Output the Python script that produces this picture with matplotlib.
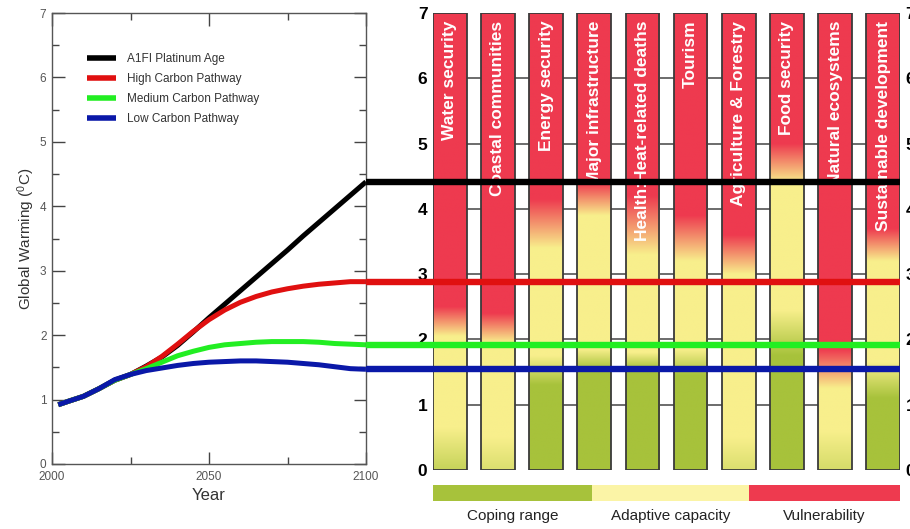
import numpy as np
import matplotlib
matplotlib.use("Agg")
import matplotlib.pyplot as plt
from matplotlib import transforms
from matplotlib.patches import Rectangle
from matplotlib.colors import to_rgb

plt.rcParams["font.family"] = ["Liberation Sans", "DejaVu Sans"]
plt.rcParams["mathtext.fontset"] = "custom"
plt.rcParams["mathtext.rm"] = "Liberation Sans"
plt.rcParams["mathtext.it"] = "Liberation Sans:italic"

# ---- warming pathways (global mean warming, deg C) ----
years = [2002, 2005, 2010, 2015, 2020, 2025, 2030, 2035, 2040, 2045, 2050,
         2055, 2060, 2065, 2070, 2075, 2080, 2085, 2090, 2095, 2100]
a1fi = [0.92, 0.97, 1.05, 1.17, 1.30, 1.39, 1.52, 1.66, 1.84, 2.05, 2.27,
        2.48, 2.69, 2.90, 3.11, 3.32, 3.54, 3.75, 3.96, 4.17, 4.38]
high = [0.92, 0.97, 1.05, 1.17, 1.30, 1.39, 1.51, 1.67, 1.86, 2.06, 2.24,
        2.39, 2.51, 2.60, 2.67, 2.72, 2.76, 2.79, 2.81, 2.83, 2.83]
medium = [0.92, 0.97, 1.05, 1.17, 1.30, 1.39, 1.48, 1.58, 1.68, 1.75, 1.81,
          1.85, 1.87, 1.89, 1.90, 1.90, 1.90, 1.89, 1.87, 1.86, 1.85]
low = [0.92, 0.97, 1.05, 1.17, 1.31, 1.39, 1.45, 1.49, 1.53, 1.56, 1.58,
       1.59, 1.60, 1.60, 1.59, 1.58, 1.56, 1.54, 1.51, 1.48, 1.47]
series_names = ["A1FI Platinum Age", "High Carbon Pathway",
                "Medium Carbon Pathway", "Low Carbon Pathway"]

# ---- sector risk bars: warming levels where each band begins/ends ----
sectors = ["Water security", "Coastal communities", "Energy security",
           "Major infrastructure", "Health:Heat-related deaths", "Tourism",
           "Agriculture & Forestry", "Food security", "Natural ecosystems",
           "Sustainable development"]
coping_top = [-0.4, -0.9, 1.30, 1.55, 1.55, 1.45, -0.9, 1.75, -0.8, 1.10]
adaptive_bottom = [0.65, 0.50, 1.75, 1.85, 1.80, 1.85, 0.50, 2.45, 0.60, 1.65]
adaptive_top = [2.05, 1.95, 3.40, 3.90, 3.30, 3.20, 3.00, 4.40, 1.25, 3.20]
vuln_bottom = [2.50, 2.40, 4.15, 4.40, 4.20, 3.90, 3.60, 5.00, 1.85, 3.70]

band_labels = ["Coping range", "Adaptive capacity", "Vulnerability"]
band_edges = [0.0, 0.34, 0.677, 1.0]

GREEN = "#a7c23b"
YELLOW = "#f8ef8c"
RED = "#ee3a4f"
LEGEND_YELLOW = "#fbf4a6"
line_colors = ["#000000", "#e01010", "#22ee22", "#0a18a8"]

fig = plt.figure(figsize=(9.10, 5.29), dpi=100)

# ---------------- left: warming pathways ----------------
axL = fig.add_axes([52 / 910, 65 / 529, 314 / 910, 451 / 529])
axL.set_zorder(3)
axL.patch.set_alpha(0)
for vals, name, c in zip([a1fi, high, medium, low], series_names, line_colors):
    axL.plot(years, vals, color=c, lw=3.6, label=name, solid_capstyle="butt")

# horizontal projection of each 2100 value across the sector bars
ext = transforms.blended_transform_factory(axL.transAxes, axL.transData)
for vals, c in zip([a1fi, high, medium, low], line_colors):
    axL.plot([1.0, (900 - 52) / 314], [vals[-1], vals[-1]], color=c, lw=4.6,
             transform=ext, clip_on=False, solid_capstyle="butt", zorder=5)

axL.set_xlim(2000, 2100)
axL.set_ylim(0, 7)
axL.set_xticks([2000, 2050, 2100])
axL.set_xticks([2025, 2075], minor=True)
axL.set_yticks(range(0, 8))
axL.set_yticks(np.arange(0.5, 7, 1.0), minor=True)
axL.tick_params(which="both", direction="in", top=True, right=True,
                color="#444444", width=1, labelsize=8.5, labelcolor="#555555")
axL.tick_params(which="major", length=9)
axL.tick_params(axis="x", which="major", pad=5)
axL.tick_params(axis="y", which="major", pad=4)
axL.tick_params(which="minor", length=5)
for s in axL.spines.values():
    s.set_color("#555555")
    s.set_linewidth(1.0)
axL.set_xlabel("Year", fontsize=12, color="#333333", labelpad=4)
axL.set_ylabel("Global Warming ($^{0}$C)", fontsize=11, color="#333333", labelpad=2)
leg = axL.legend(loc="upper left", bbox_to_anchor=(0.11, 0.912), frameon=False,
                 fontsize=8.5, handlelength=2.5, handletextpad=0.9,
                 labelspacing=0.7, borderaxespad=0, borderpad=0)
for t in leg.get_texts():
    t.set_color("#333333")
for h in leg.get_lines():
    h.set_linewidth(4)

# ---------------- right: sector bars ----------------
axR = fig.add_axes([433 / 910, 59 / 529, 467 / 910, 457 / 529])
axR.set_zorder(1)
for lvl in range(1, 7):
    axR.axhline(lvl, color="#444444", lw=1.1, zorder=0)

yy = np.linspace(0, 7, 700)
g, y_, r = np.array(to_rgb(GREEN)), np.array(to_rgb(YELLOW)), np.array(to_rgb(RED))
w = 0.70
for i, name in enumerate(sectors):
    xp = [coping_top[i], adaptive_bottom[i], adaptive_top[i], vuln_bottom[i]]
    fp = np.array([g, y_, y_, r])
    col = np.stack([np.interp(yy, xp, fp[:, k]) for k in range(3)], axis=-1)
    axR.imshow(col[:, None, :], extent=(i - w / 2, i + w / 2, 0, 7), origin="lower",
               aspect="auto", interpolation="bilinear", zorder=1)
    axR.add_patch(Rectangle((i - w / 2, 0), w, 7, fill=False, ec="#3a3a3a",
                            lw=1.3, zorder=2))
    axR.text(i, 6.88, name, rotation=90, ha="center", va="top", color="white",
             fontsize=12.5, fontweight="bold", zorder=3)

axR.set_xlim(-0.35, len(sectors) - 1 + 0.35)
axR.set_ylim(0, 7)
axR.set_xticks([])
axR.set_yticks(range(0, 8))
axR.tick_params(axis="y", length=0, labelleft=True, labelright=True, pad=4,
                labelsize=12.5)
for t in axR.get_yticklabels():
    t.set_fontweight("bold")
for s in axR.spines.values():
    s.set_visible(False)

# ---------------- band key under the bars ----------------
axK = fig.add_axes([433 / 910, 28 / 529, 467 / 910, 16 / 529])
key_colors = [GREEN, LEGEND_YELLOW, RED]
for k in range(3):
    axK.barh(0, band_edges[k + 1] - band_edges[k], left=band_edges[k], height=1,
             color=key_colors[k], edgecolor="none")
    axK.text((band_edges[k] + band_edges[k + 1]) / 2, -1.45, band_labels[k],
             ha="center", va="center", fontsize=11, color="#222222")
axK.set_xlim(0, 1)
axK.set_ylim(-0.5, 0.5)
axK.axis("off")

fig.savefig("out.png", dpi=100)
